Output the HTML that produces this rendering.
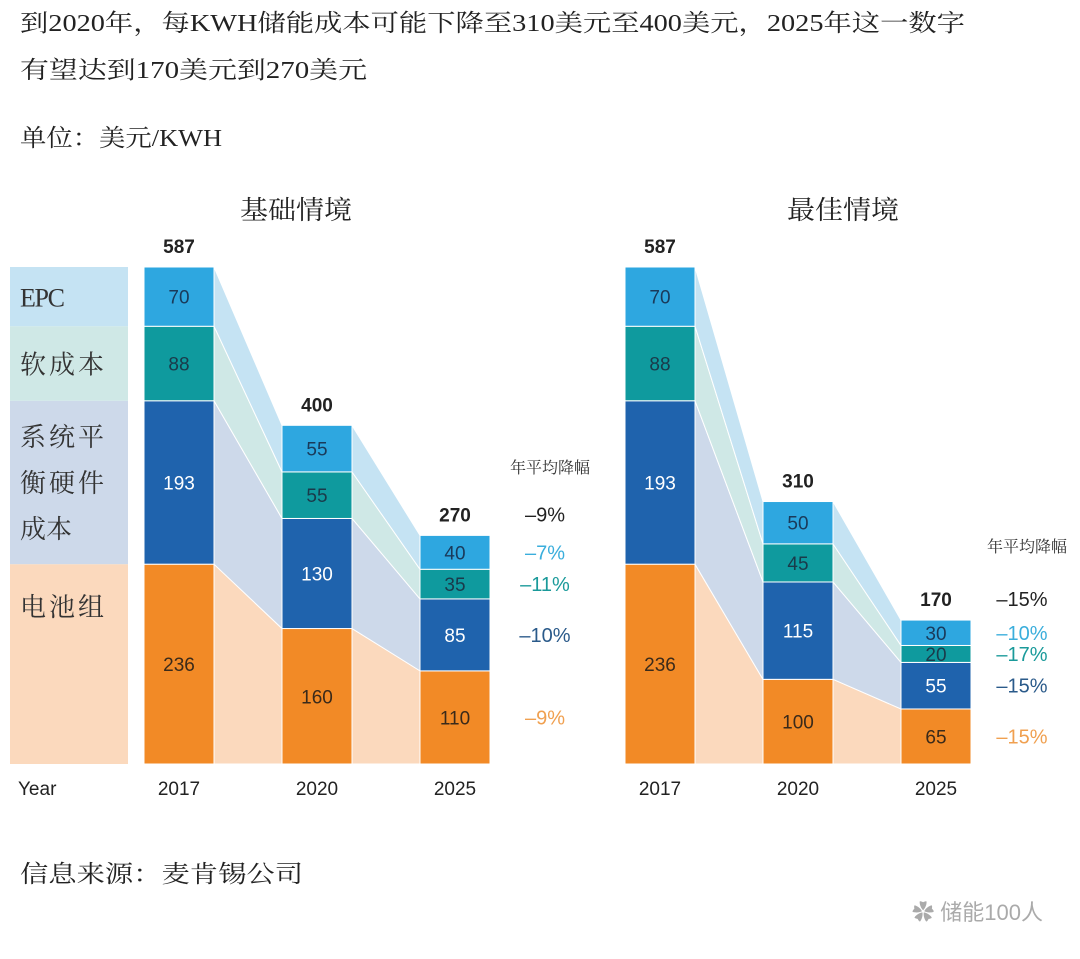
<!DOCTYPE html>
<html><head><meta charset="utf-8">
<style>
body{margin:0;background:#fff;width:1080px;height:959px;overflow:hidden;}
svg{display:block}
.serif{font-family:"Liberation Serif","Noto Serif CJK SC",serif;}
.sans{font-family:"Liberation Sans","Noto Sans CJK SC",sans-serif;}
</style></head>
<body>
<svg id="chart" width="1080" height="959" viewBox="0 0 1080 959">
<text class="serif" x="20" y="31" font-size="24" fill="#222" textLength="945" lengthAdjust="spacingAndGlyphs">到2020年，每KWH储能成本可能下降至310美元至400美元，2025年这一数字</text>
<text class="serif" x="20" y="78" font-size="24" fill="#222" textLength="347" lengthAdjust="spacingAndGlyphs">有望达到170美元到270美元</text>
<text class="serif" x="20" y="146" font-size="24" fill="#222" textLength="202" lengthAdjust="spacingAndGlyphs">单位：美元/KWH</text>
<text class="serif" x="240" y="219" font-size="26" fill="#222" textLength="112" lengthAdjust="spacingAndGlyphs">基础情境</text>
<text class="serif" x="787" y="219" font-size="26" fill="#222" textLength="112" lengthAdjust="spacingAndGlyphs">最佳情境</text>
<g id="legend"></g>
<g id="plot"></g>
<text class="sans" x="18" y="795" font-size="19" fill="#222">Year</text>
<text class="serif" x="20" y="882" font-size="24" fill="#222" textLength="283" lengthAdjust="spacingAndGlyphs">信息来源：麦肯锡公司</text>
<text class="sans" x="1043" y="920" font-size="22" fill="#aaa" text-anchor="end">✿ 储能100人</text>
</svg>
<script>
const years=["2017","2020","2025"];
const baseBattery=[236,160,110];
const baseBOS=[193,130,85];
const baseSoft=[88,55,35];
const baseEPC=[70,55,40];
const baseTotals=[587,400,270];
const baseRates=["-9%","-10%","-11%","-7%"];
const baseTotalRate="-9%";
const bestBattery=[236,100,65];
const bestBOS=[193,115,55];
const bestSoft=[88,45,20];
const bestEPC=[70,50,30];
const bestTotals=[587,310,170];
const bestRates=["-15%","-15%","-17%","-10%"];
const bestTotalRate="-15%";

const NS="http://www.w3.org/2000/svg";
const plot=document.getElementById('plot');
const BASE=764, K=497/587, BW=70;
const barColors=["#f28a26","#1f63ad","#0f9a9e","#2ea7e0"];
const bandColors=["#fbd9bd","#cdd9ea","#cfe8e6","#c5e3f3"];
const txtColors=["#3a2a1a","#ffffff","#1a3a4a","#1a3a5a"];
const rateColors=["#f0a050","#2a5a8a","#1a9a9a","#3aaedc"];
const y=v=>BASE-v*K;
function el(tag,attrs,parent){const e=document.createElementNS(NS,tag);for(const k in attrs)e.setAttribute(k,attrs[k]);(parent||plot).appendChild(e);return e;}
function txt(x,yy,s,size,fill,anchor,cls){const t=el('text',{x:x,y:yy,'font-size':size,fill:fill,'text-anchor':anchor||'middle','class':cls||'sans'});t.textContent=s;return t;}

const leg=document.getElementById('legend');
const legLabels=[["电池组"],["系统平","衡硬件","成本"],["软成本"],["EPC"]];
let acc=0;
for(let i=0;i<4;i++){
  const v=[baseBattery,baseBOS,baseSoft,baseEPC][i][0];
  const r=el('rect',{x:10,y:y(acc+v),width:118,height:v*K,fill:bandColors[i]},leg);
  
  
  const lines=legLabels[i];
  const top=y(acc+v);
  if(i===1){lines.forEach((l,j)=>{const t=txt(20,top+45+j*46,l,26,'#333','start','serif');if(l.length===3)t.setAttribute('textLength','84');});}
  else{const t=txt(20,top+(i===0?52:(v*K)/2+10),lines[0],26,'#333','start','serif');t.setAttribute('textLength',i===3?'45':'84');}
  acc+=v;
}

function drawChart(xs,series,totals,rates,totalRate,rateX,headY,prefix){
  for(let b=0;b<2;b++){
    let a0=0,a1=0;
    for(let i=0;i<4;i++){
      const v0=series[i][b],v1=series[i][b+1];
      const x0=xs[b]+BW,x1=xs[b+1];
      const p=el('polygon',{points:`${x0},${y(a0+v0)} ${x1},${y(a1+v1)} ${x1},${y(a1)} ${x0},${y(a0)}`,fill:bandColors[i],stroke:'#fff','stroke-width':1});
      
      
      a0+=v0;a1+=v1;
    }
  }
  for(let b=0;b<3;b++){
    let a=0;
    for(let i=0;i<4;i++){
      const v=series[i][b];
      const r=el('rect',{x:xs[b],y:y(a+v),width:BW,height:v*K,fill:barColors[i],stroke:'#fff','stroke-width':1});
      
      
      const t=txt(xs[b]+BW/2,y(a+v/2)+7,String(v),19,txtColors[i]);
      
      
      if(b===2){
        const rt=txt(rateX,y(a+v/2)+7,rates[i].replace('-','–'),20,rateColors[i]);
        
        
      }
      a+=v;
    }
    const tt=txt(xs[b]+BW/2,y(totals[b])-14,String(totals[b]),19,'#222');
    tt.setAttribute('font-weight','bold');
    
    
    const yl=txt(xs[b]+BW/2,795,years[b],19,'#222');
    
    
  }
  const tr=txt(rateX,y(totals[2])-14,totalRate.replace('-','–'),20,'#222');
  
  
  const h=txt(rateX+5,headY,'年平均降幅',16,'#333','middle','serif');
  
  
}
drawChart([144,282,420],[baseBattery,baseBOS,baseSoft,baseEPC],baseTotals,baseRates,baseTotalRate,545,473,'base');
drawChart([625,763,901],[bestBattery,bestBOS,bestSoft,bestEPC],bestTotals,bestRates,bestTotalRate,1022,552,'best');
</script>
</body></html>
